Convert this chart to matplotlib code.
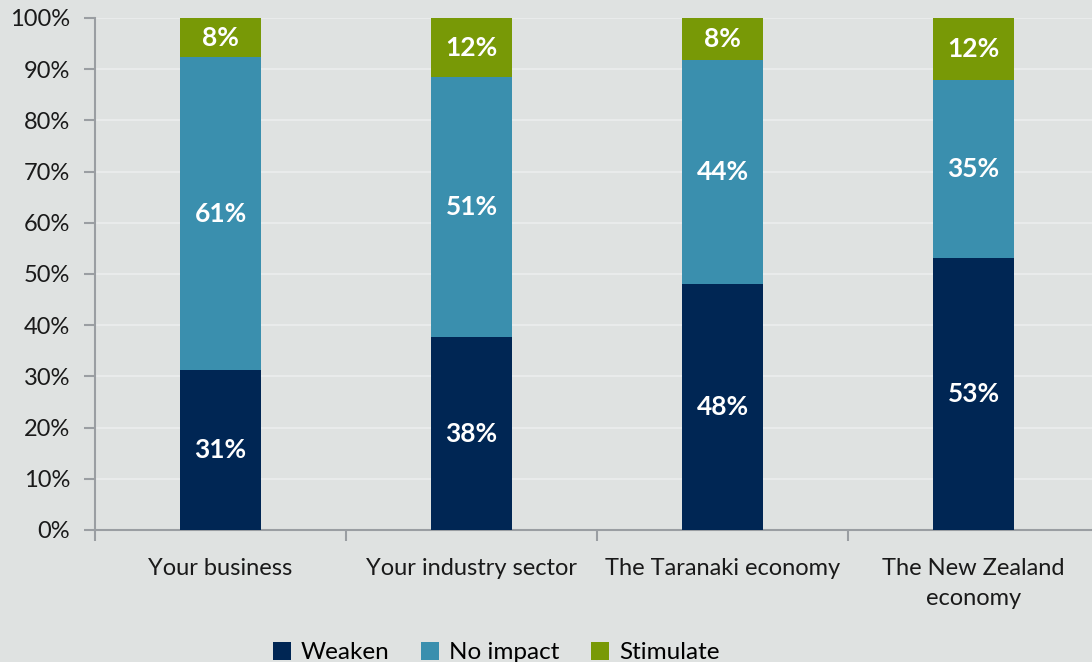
import matplotlib.pyplot as plt
import numpy as np

categories = ['Your business', 'Your industry sector', 'The Taranaki economy', 'The New Zealand\neconomy']
series = ['Weaken', 'No impact', 'Stimulate']
weaken = [31.3, 37.6, 48.0, 53.1]
no_impact = [61.0, 50.8, 43.8, 34.8]
stimulate = [7.7, 11.6, 8.2, 12.1]
colors = ['#002654', '#3a8fae', '#789906']
bg = '#dfe2e1'

plt.rcParams['font.family'] = ['Lato', 'DejaVu Sans']

fig = plt.figure(figsize=(10.92, 6.62), dpi=100, facecolor=bg)
ax = fig.add_axes([95 / 1092, 1 - 530 / 662, 1004 / 1092, 512 / 662])
ax.set_facecolor(bg)

x = np.arange(len(categories))
bottom = np.zeros(len(categories))
for name, vals, c in zip(series, [weaken, no_impact, stimulate], colors):
    bars = ax.bar(x, vals, 0.32, bottom=bottom, color=c, label=name, zorder=3)
    for b, v, y0 in zip(bars, vals, bottom):
        ax.text(b.get_x() + b.get_width() / 2, y0 + v / 2, f'{round(v)}%',
                ha='center', va='center', color='white', fontsize=19, fontweight='bold', zorder=4)
    bottom += np.array(vals)

ax.set_xlim(-0.5, len(categories) - 0.5)
ax.set_ylim(0, 100)
ax.set_yticks(np.arange(0, 101, 10))
ax.set_yticklabels([f'{t}%' for t in range(0, 101, 10)])
ax.set_xticks(x)
ax.set_xticklabels(categories, linespacing=1.55)
ax.set_xticks(np.arange(-0.5, len(categories), 1), minor=True)
ax.tick_params(axis='x', which='major', length=0, pad=20, labelsize=17, colors='#1a1a1a')
ax.tick_params(axis='x', which='minor', length=8, width=1.5, color='#9a9ea2', direction='out')
ax.tick_params(axis='y', length=8, width=1.5, color='#9a9ea2', labelsize=17, labelcolor='#1a1a1a', pad=10)
ax.grid(axis='y', color='#e9ebeb', linewidth=1.5, zorder=0)
for s in ['top', 'right']:
    ax.spines[s].set_visible(False)
for s in ['left', 'bottom']:
    ax.spines[s].set_color('#9a9ea2')
    ax.spines[s].set_linewidth(1.5)

fig.legend(loc='upper center', bbox_to_anchor=(496 / 1092, 1 - 620 / 662), ncol=3, frameon=False,
           fontsize=17.5, handlelength=0.75, handleheight=0.75, handletextpad=0.4, columnspacing=1.3)

fig.savefig('out.png', dpi=100, facecolor=bg)
